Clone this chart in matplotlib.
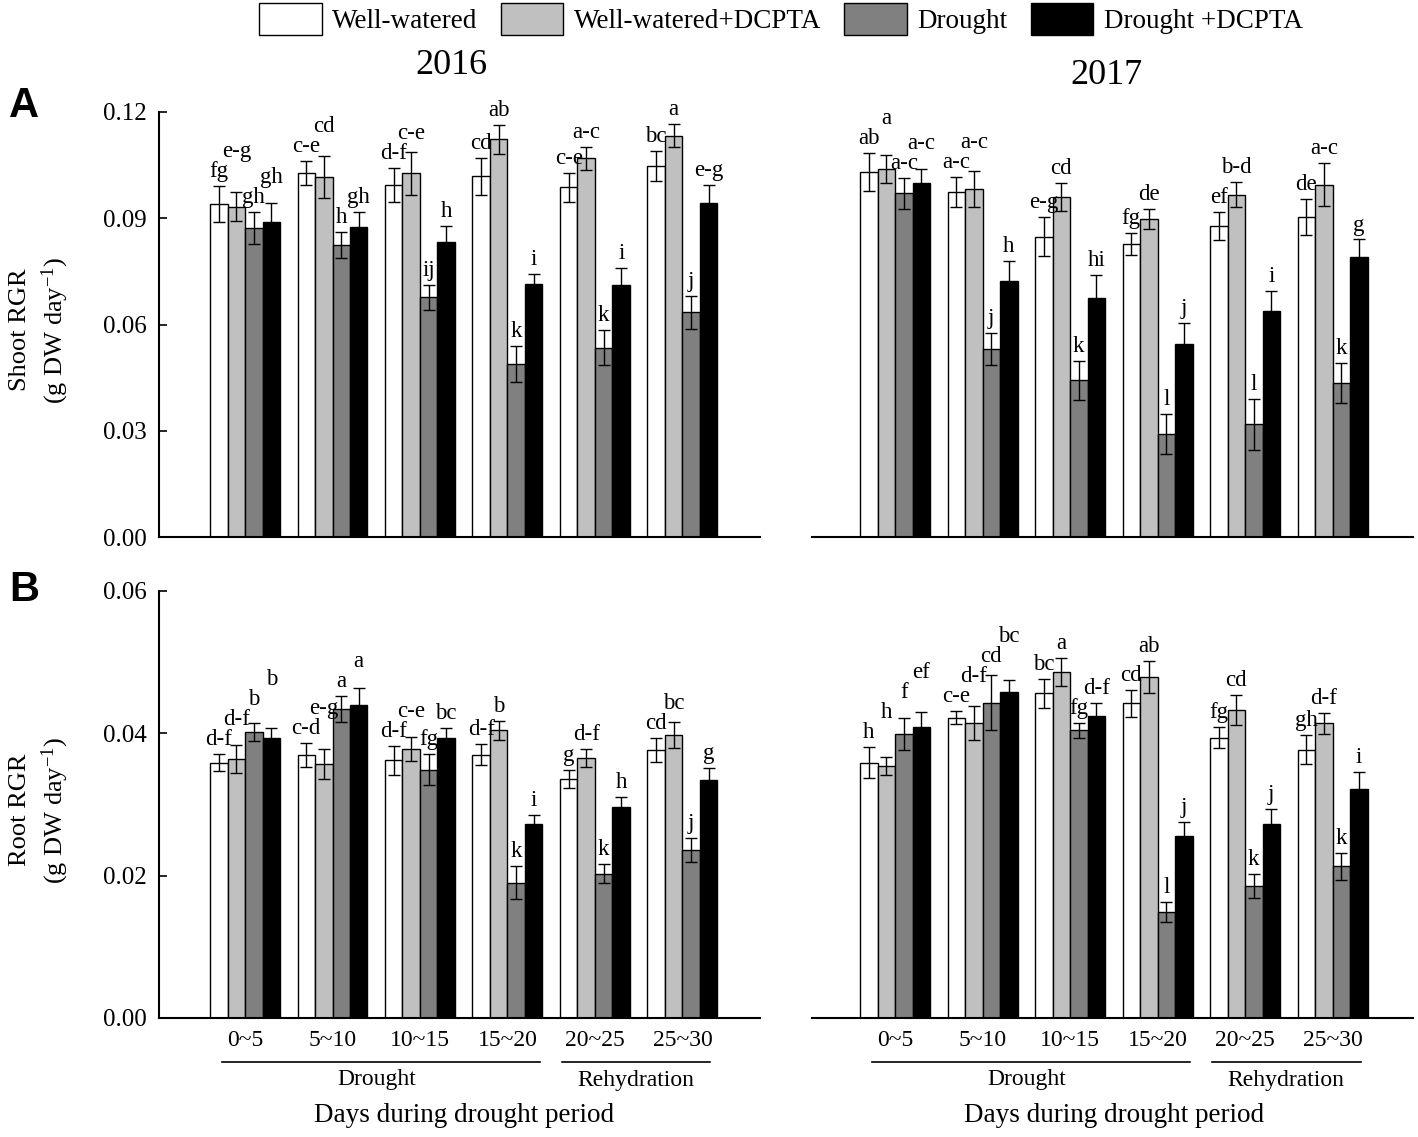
import numpy as np
import matplotlib.pyplot as plt
from matplotlib.patches import Patch
import matplotlib.transforms as mtransforms

plt.rcParams['font.family'] = ['Liberation Serif', 'DejaVu Serif']
plt.rcParams['mathtext.fontset'] = 'custom'
plt.rcParams['mathtext.rm'] = 'Liberation Serif'
plt.rcParams['mathtext.default'] = 'regular'

periods = ['0~5', '5~10', '10~15', '15~20', '20~25', '25~30']
treatments = ['Well-watered', 'Well-watered+DCPTA', 'Drought', 'Drought +DCPTA']
colors = ['white', '#c0c0c0', '#808080', 'black']

# Shoot RGR 2016 (rows: treatments, cols: periods)
shoot16 = [[0.0940, 0.1027, 0.0995, 0.1018, 0.0987, 0.1048],
           [0.0933, 0.1017, 0.1027, 0.1123, 0.1069, 0.1133],
           [0.0872, 0.0824, 0.0677, 0.0488, 0.0535, 0.0634],
           [0.0890, 0.0875, 0.0833, 0.0713, 0.0712, 0.0943]]
shoot16_err = [[0.0051, 0.0034, 0.0048, 0.0051, 0.0041, 0.0042],
               [0.0042, 0.0060, 0.0061, 0.0041, 0.0032, 0.0032],
               [0.0045, 0.0036, 0.0035, 0.0050, 0.0050, 0.0046],
               [0.0053, 0.0042, 0.0044, 0.0030, 0.0047, 0.0052]]
shoot16_sig = [['fg', 'c-e', 'd-f', 'cd', 'c-e', 'bc'],
               ['e-g', 'cd', 'c-e', 'ab', 'a-c', 'a'],
               ['gh', 'h', 'ij', 'k', 'k', 'j'],
               ['gh', 'gh', 'h', 'i', 'i', 'e-g']]

# Shoot RGR 2017
shoot17 = [[0.1031, 0.0974, 0.0848, 0.0828, 0.0878, 0.0903],
           [0.1039, 0.0982, 0.0960, 0.0898, 0.0966, 0.0995],
           [0.0970, 0.0530, 0.0443, 0.0290, 0.0318, 0.0435],
           [0.0999, 0.0722, 0.0675, 0.0545, 0.0638, 0.0791]]
shoot17_err = [[0.0054, 0.0042, 0.0056, 0.0031, 0.0039, 0.0051],
               [0.0039, 0.0050, 0.0040, 0.0029, 0.0035, 0.0060],
               [0.0045, 0.0045, 0.0055, 0.0057, 0.0072, 0.0056],
               [0.0041, 0.0057, 0.0065, 0.0058, 0.0056, 0.0049]]
shoot17_sig = [['ab', 'a-c', 'e-g', 'fg', 'ef', 'de'],
               ['a', 'a-c', 'cd', 'de', 'b-d', 'a-c'],
               ['a-c', 'j', 'k', 'l', 'l', 'k'],
               ['a-c', 'h', 'hi', 'j', 'i', 'g']]

# Root RGR 2016
root16 = [[0.0359, 0.0369, 0.0362, 0.0370, 0.0336, 0.0377],
          [0.0364, 0.0357, 0.0378, 0.0404, 0.0365, 0.0398],
          [0.0402, 0.0434, 0.0349, 0.0190, 0.0203, 0.0236],
          [0.0394, 0.0440, 0.0393, 0.0273, 0.0296, 0.0334]]
root16_err = [[0.0012, 0.0017, 0.0020, 0.0015, 0.0013, 0.0017],
              [0.0020, 0.0021, 0.0017, 0.0014, 0.0013, 0.0018],
              [0.0013, 0.0018, 0.0022, 0.0023, 0.0014, 0.0017],
              [0.0014, 0.0023, 0.0015, 0.0012, 0.0014, 0.0017]]
root16_sig = [['d-f', 'c-d', 'd-f', 'd-f', 'g', 'cd'],
              ['d-f', 'e-g', 'c-e', 'b', 'd-f', 'bc'],
              ['b', 'a', 'fg', 'k', 'k', 'j'],
              ['b', 'a', 'bc', 'i', 'h', 'g']]

# Root RGR 2017
root17 = [[0.0359, 0.0422, 0.0456, 0.0442, 0.0394, 0.0377],
          [0.0354, 0.0414, 0.0486, 0.0479, 0.0433, 0.0414],
          [0.0399, 0.0443, 0.0404, 0.0149, 0.0185, 0.0213],
          [0.0409, 0.0458, 0.0424, 0.0256, 0.0273, 0.0322]]
root17_err = [[0.0022, 0.0009, 0.0021, 0.0019, 0.0015, 0.0020],
              [0.0013, 0.0024, 0.0020, 0.0023, 0.0021, 0.0015],
              [0.0023, 0.0039, 0.0011, 0.0014, 0.0017, 0.0019],
              [0.0021, 0.0017, 0.0019, 0.0019, 0.0021, 0.0023]]
root17_sig = [['h', 'c-e', 'bc', 'cd', 'fg', 'gh'],
              ['h', 'd-f', 'a', 'ab', 'cd', 'd-f'],
              ['f', 'cd', 'fg', 'l', 'k', 'k'],
              ['ef', 'bc', 'd-f', 'j', 'j', 'i']]

W, H = 1418, 1137
fig = plt.figure(figsize=(W / 100, H / 100), dpi=100)

ax_a1 = fig.add_axes([159 / W, 1 - 537 / H, 601 / W, 425 / H])
ax_a2 = fig.add_axes([812 / W, 1 - 537 / H, 601 / W, 425 / H])
ax_b1 = fig.add_axes([159 / W, 1 - 1018 / H, 601 / W, 427 / H])
ax_b2 = fig.add_axes([812 / W, 1 - 1018 / H, 601 / W, 427 / H])

x = np.arange(len(periods))
bw = 0.2


def draw_panel(ax, means, errs, sigs, ymax, yticks, xlim, left_axis, bottom_row):
    ax_h = ax.get_position().height * H
    px = ymax / ax_h
    for k in range(4):
        ax.bar(x + (k - 1.5) * bw, means[k], bw, color=colors[k],
               edgecolor='black', linewidth=1.0, zorder=2)
        ax.errorbar(x + (k - 1.5) * bw, means[k], yerr=errs[k], fmt='none',
                    ecolor='black', elinewidth=1.0, capsize=4, capthick=1.0, zorder=3)
    # significance letters, stacked when neighbours collide
    step = 20 * px
    for g in range(len(periods)):
        prev = None
        for k in range(4):
            y = means[k][g] + errs[k][g] + 4 * px
            if prev is not None and prev - step < y < prev + step:
                y = prev + step
            ax.text(x[g] + (k - 1.5) * bw, y, sigs[k][g], ha='center', va='bottom',
                    fontsize=16.5)
            prev = y
    ax.set_ylim(0, ymax)
    ax.set_xlim(*xlim)
    for s in ['top', 'right']:
        ax.spines[s].set_visible(False)
    ax.spines['bottom'].set_linewidth(1.5)
    if left_axis:
        ax.spines['left'].set_linewidth(1.5)
        ax.set_yticks(yticks)
        ax.set_yticklabels(['%.2f' % t for t in yticks])
        ax.tick_params(axis='y', direction='in', length=6, width=1.2, labelsize=18, pad=9)
    else:
        ax.spines['left'].set_visible(False)
        ax.set_yticks([])
    ax.tick_params(axis='x', length=0)
    if bottom_row:
        ax.set_xticks(x)
        ax.set_xticklabels(periods, fontsize=17)
        ax.tick_params(axis='x', pad=9)
        trans = mtransforms.blended_transform_factory(ax.transData, ax.transAxes)
        ax.plot([-0.26, 3.37], [-0.103, -0.103], color='black', lw=1.2,
                transform=trans, clip_on=False)
        ax.plot([3.62, 5.32], [-0.103, -0.103], color='black', lw=1.2,
                transform=trans, clip_on=False)
        ax.text(1.5, -0.143, 'Drought', transform=trans, ha='center', va='center', fontsize=17)
        ax.text(4.47, -0.146, 'Rehydration', transform=trans, ha='center', va='center', fontsize=17)
        ax.text(2.5, -0.228, 'Days during drought period', transform=trans,
                ha='center', va='center', fontsize=19.5)
    else:
        ax.set_xticks([])


draw_panel(ax_a1, shoot16, shoot16_err, shoot16_sig, 0.12,
           [0, 0.03, 0.06, 0.09, 0.12], (-0.983, 5.886), True, False)
draw_panel(ax_a2, shoot17, shoot17_err, shoot17_sig, 0.12,
           [0, 0.03, 0.06, 0.09, 0.12], (-0.949, 5.92), False, False)
draw_panel(ax_b1, root16, root16_err, root16_sig, 0.06,
           [0, 0.02, 0.04, 0.06], (-0.983, 5.886), True, True)
draw_panel(ax_b2, root17, root17_err, root17_sig, 0.06,
           [0, 0.02, 0.04, 0.06], (-0.949, 5.92), False, True)

fig.text(40 / W, 1 - 330 / H, 'Shoot RGR\n(g DW day$^{-1}$)', rotation=90,
         ha='center', va='center', fontsize=19, linespacing=1.4)
fig.text(40 / W, 1 - 810 / H, 'Root RGR\n(g DW day$^{-1}$)', rotation=90,
         ha='center', va='center', fontsize=19, linespacing=1.4)

fig.text(451 / W, 1 - 65 / H, '2016', ha='center', va='center', fontsize=26)
fig.text(1106 / W, 1 - 75 / H, '2017', ha='center', va='center', fontsize=26)
fig.text(24 / W, 1 - 106 / H, 'A', ha='center', va='center', fontsize=30,
         fontweight='bold', family='Liberation Sans')
fig.text(24 / W, 1 - 590 / H, 'B', ha='center', va='center', fontsize=30,
         fontweight='bold', family='Liberation Sans')

handles = [Patch(facecolor=c, edgecolor='black', linewidth=1.0) for c in colors]
fig.legend(handles, treatments, loc='center', bbox_to_anchor=(781 / W, 1 - 19 / H),
           ncol=4, frameon=False, fontsize=19.5, handlelength=2.3, handleheight=1.4,
           handletextpad=0.4, columnspacing=0.85)

fig.savefig('out.png', dpi=100)
